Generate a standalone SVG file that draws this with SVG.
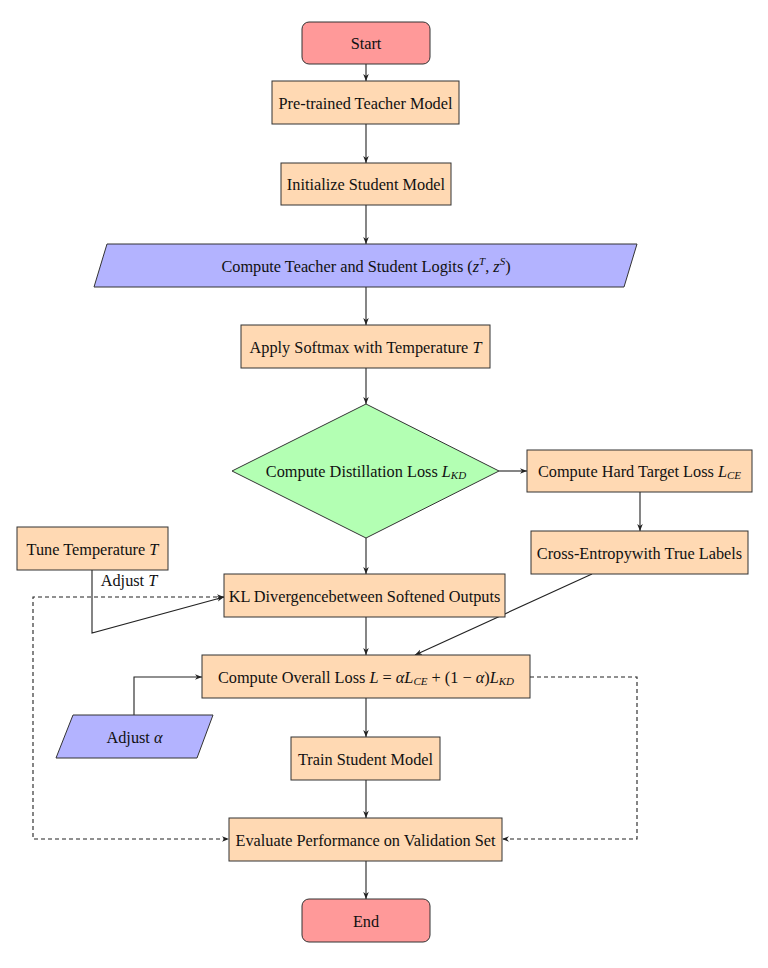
<svg xmlns="http://www.w3.org/2000/svg" width="768" height="968" viewBox="0 0 768 968">
<style>
text{font-family:"Liberation Serif","DejaVu Serif",serif;font-size:16.3px;fill:#111;text-anchor:middle;dominant-baseline:central}
.i{font-style:italic}
.s{font-size:11px;font-style:italic}
.box{fill:#FFD9B3;stroke:#333;stroke-width:1}
.term{fill:#FF9999;stroke:#333;stroke-width:1}
.io{fill:#B3B3FF;stroke:#333;stroke-width:1}
.dec{fill:#B3FFB3;stroke:#333;stroke-width:1}
.c{fill:none;stroke:#222;stroke-width:1.1}
.d{fill:none;stroke:#222;stroke-width:1.1;stroke-dasharray:4,3}
</style>
<defs>
<marker id="a" viewBox="0 0 10 10" refX="10" refY="5" markerWidth="7" markerHeight="7" orient="auto-start-reverse" markerUnits="userSpaceOnUse">
<path d="M0,1 L10,5 L0,9 L3,5 z" fill="#222"/>
</marker>
</defs>
<rect width="768" height="968" fill="#fff"/>
<g id="connectors">
<line class="c" x1="366" y1="64" x2="366" y2="81" marker-end="url(#a)"/>
<line class="c" x1="366" y1="124" x2="366" y2="163" marker-end="url(#a)"/>
<line class="c" x1="366" y1="205" x2="366" y2="244" marker-end="url(#a)"/>
<line class="c" x1="366" y1="287" x2="366" y2="325" marker-end="url(#a)"/>
<line class="c" x1="366" y1="368" x2="366" y2="404" marker-end="url(#a)"/>
<line class="c" x1="366" y1="538" x2="366" y2="574" marker-end="url(#a)"/>
<line class="c" x1="499" y1="471" x2="527" y2="471" marker-end="url(#a)"/>
<line class="c" x1="640" y1="492" x2="640" y2="531" marker-end="url(#a)"/>
<line class="c" x1="592" y1="574" x2="415" y2="655" marker-end="url(#a)"/>
<polyline class="c" points="92,570 92,633 224,597" marker-end="url(#a)"/>
<text x="129" y="580">Adjust <tspan class="i">T</tspan></text>
<polyline class="d" points="224,597 33,597 33,839 229,839" marker-start="url(#a)" marker-end="url(#a)"/>
<polyline class="d" points="530,677 637,677 637,839 502,839" marker-end="url(#a)"/>
<line class="c" x1="366" y1="617" x2="366" y2="655" marker-end="url(#a)"/>
<polyline class="c" points="134,715 134,677 202,677" marker-end="url(#a)"/>
<line class="c" x1="366" y1="698" x2="366" y2="737" marker-end="url(#a)"/>
<line class="c" x1="366" y1="780" x2="366" y2="818" marker-end="url(#a)"/>
<line class="c" x1="366" y1="861" x2="366" y2="899" marker-end="url(#a)"/>
</g>
<g id="start"><rect class="term" x="302" y="22" width="128" height="42" rx="7"/><text x="366" y="43">Start</text></g>
<g id="teacher"><rect class="box" x="272" y="81" width="187" height="43"/><text x="365.5" y="103">Pre-trained Teacher Model</text></g>
<g id="init"><rect class="box" x="281" y="163" width="170" height="42"/><text x="366" y="184">Initialize Student Model</text></g>
<g id="logits"><polygon class="io" points="107,244 637,244 624,287 94,287"/><text x="366" y="266">Compute Teacher and Student Logits (<tspan class="i">z</tspan><tspan class="s" dy="-5">T</tspan><tspan dy="5">, </tspan><tspan class="i">z</tspan><tspan class="s" dy="-5">S</tspan><tspan dy="5">)</tspan></text></g>
<g id="softmax"><rect class="box" x="241" y="325" width="249" height="43"/><text x="365.5" y="347">Apply Softmax with Temperature <tspan class="i">T</tspan></text></g>
<g id="distill"><polygon class="dec" points="366,404 499,471 366,538 232,471"/><text x="366" y="471">Compute Distillation Loss <tspan class="i">L</tspan><tspan class="s" dy="4">KD</tspan></text></g>
<g id="hard"><rect class="box" x="527" y="450" width="225" height="42"/><text x="639.5" y="471">Compute Hard Target Loss <tspan class="i">L</tspan><tspan class="s" dy="4">CE</tspan></text></g>
<g id="ce"><rect class="box" x="531" y="531" width="217" height="43"/><text x="639.5" y="553">Cross-Entropywith True Labels</text></g>
<g id="tune"><rect class="box" x="17" y="527" width="151" height="43"/><text x="92.5" y="549">Tune Temperature <tspan class="i">T</tspan></text></g>
<g id="kl"><rect class="box" x="224" y="574" width="281" height="43"/><text x="364.5" y="596">KL Divergencebetween Softened Outputs</text></g>
<g id="overall"><rect class="box" x="202" y="655" width="328" height="43"/><text x="366" y="677">Compute Overall Loss <tspan class="i">L</tspan> = <tspan class="i">αL</tspan><tspan class="s" dy="4">CE</tspan><tspan dy="-4"> + (1 − </tspan><tspan class="i">α</tspan>)<tspan class="i">L</tspan><tspan class="s" dy="4">KD</tspan></text></g>
<g id="alpha"><polygon class="io" points="73,715 213,715 197,758 56,758"/><text x="134.5" y="737">Adjust <tspan class="i">α</tspan></text></g>
<g id="train"><rect class="box" x="291" y="737" width="149" height="43"/><text x="365.5" y="759">Train Student Model</text></g>
<g id="eval"><rect class="box" x="229" y="818" width="273" height="43"/><text x="365.5" y="840">Evaluate Performance on Validation Set</text></g>
<g id="end"><rect class="term" x="302" y="899" width="128" height="43" rx="7"/><text x="366" y="921">End</text></g>
</svg>
